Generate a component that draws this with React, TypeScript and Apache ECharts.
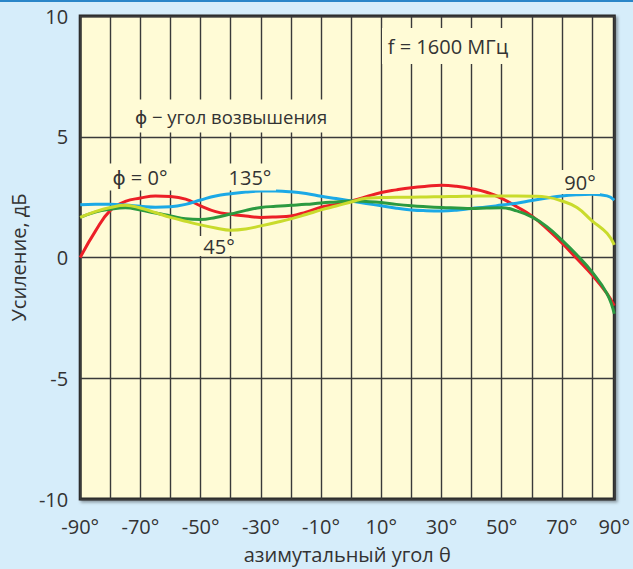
import React, { useEffect, useRef } from "react";
import * as echarts from "echarts";

// Axis ranges (the last 10° interval of the original grid is drawn compressed;
// the right edge of the plot carries the "90°" label)
const X_MIN = -90;
const X_END = 87.4;
const Y_MIN = -10;
const Y_MAX = 10;

const thetas = [
  -90, -85, -80, -75, -70, -65, -60, -55, -50, -45, -40, -35, -30, -25, -20, -15, -10, -5,
  0, 5, 10, 15, 20, 25, 30, 35, 40, 45, 50, 55, 60, 65, 70, 75, 80, 85, X_END,
];

// φ = 0° (red)
const gainRed = [
  0, 1.08, 1.95, 2.32, 2.46, 2.55, 2.53, 2.42, 2.14, 1.9, 1.79, 1.72, 1.66, 1.68, 1.72, 1.88, 2.08, 2.2,
  2.34, 2.52, 2.69, 2.8, 2.89, 2.95, 2.99, 2.95, 2.85, 2.7, 2.45, 2.1, 1.72, 1.2, 0.6, -0.05, -0.72, -1.5, -2.0,
];
// 135° (blue)
const gainBlue = [
  2.18, 2.2, 2.2, 2.17, 2.12, 2.08, 2.1, 2.2, 2.38, 2.55, 2.64, 2.71, 2.75, 2.75, 2.72, 2.65, 2.54, 2.44,
  2.34, 2.24, 2.14, 2.04, 1.97, 1.94, 1.93, 1.96, 2.03, 2.09, 2.17, 2.25, 2.36, 2.46, 2.55, 2.6, 2.62, 2.55, 2.38,
];
// green
const gainGreen = [
  1.66, 1.88, 2.0, 2.06, 1.97, 1.84, 1.72, 1.6, 1.57, 1.66, 1.8, 1.95, 2.07, 2.12, 2.16, 2.2, 2.26, 2.3,
  2.34, 2.32, 2.28, 2.2, 2.14, 2.1, 2.07, 2.05, 2.03, 2.05, 2.06, 1.93, 1.68, 1.28, 0.72, 0.1, -0.6, -1.5, -2.33,
];
// yellow
const gainYellow = [
  1.66, 1.9, 2.07, 2.16, 2.05, 1.86, 1.66, 1.5, 1.35, 1.22, 1.13, 1.18, 1.31, 1.45, 1.6, 1.78, 1.97, 2.13,
  2.3, 2.45, 2.48, 2.5, 2.5, 2.51, 2.52, 2.53, 2.54, 2.55, 2.55, 2.55, 2.54, 2.5, 2.34, 2.07, 1.52, 1.0, 0.52,
];

const seriesDefs = [
  { name: "ϕ = 0°", color: "#ec1f27", data: gainRed },
  { name: "135°", color: "#1ba9e6", data: gainBlue },
  { name: "90°", color: "#2c9a40", data: gainGreen },
  { name: "45°", color: "#c9db2c", data: gainYellow },
];

const FONT = '"Open Sans", "DejaVu Sans", sans-serif';
const TEXT_COLOR = "#333333";
const PLOT_BG = "#fffbd6";
const PAGE_BG = "#d6edfa";

function label(text: string, cx: number, cy: number, w: number, h: number, size = 20) {
  return {
    type: "group",
    z: 100,
    children: [
      {
        type: "rect",
        z: 100,
        shape: { x: cx - w / 2, y: cy - h / 2, width: w, height: h },
        style: { fill: PLOT_BG },
      },
      {
        type: "text",
        z: 101,
        x: cx,
        y: cy,
        style: {
          text,
          fill: TEXT_COLOR,
          fontSize: size,
          fontFamily: FONT,
          align: "center",
          verticalAlign: "middle",
        },
      },
    ],
  };
}

export default function App() {
  const ref = useRef<HTMLDivElement>(null);

  useEffect(() => {
    if (!ref.current) return;
    const chart = echarts.init(ref.current, undefined, { renderer: "svg" });
    chart.setOption({
      animation: false,
      backgroundColor: PAGE_BG,
      grid: {
        left: 63,
        top: 16,
        width: 556,
        height: 485,
        show: true,
        backgroundColor: PLOT_BG,
        borderColor: "#2a2a2a",
        borderWidth: 3,
        shadowColor: "rgba(0,0,0,0.35)",
        shadowBlur: 3,
        shadowOffsetX: 2,
        shadowOffsetY: 2,
        z: 0,
      },
      xAxis: {
        type: "value",
        min: X_MIN,
        max: X_END,
        interval: 10,
        name: "азимутальный угол θ",
        nameLocation: "middle",
        nameGap: 45,
        nameTextStyle: { fontSize: 20, color: TEXT_COLOR, fontFamily: FONT },
        axisLine: { show: false },
        axisTick: { show: false },
        axisLabel: {
          show: true,
          showMaxLabel: true,
          showMinLabel: true,
          margin: 17,
          fontSize: 20,
          color: TEXT_COLOR,
          fontFamily: FONT,
          formatter: (v: number) => {
            if (Math.abs(v - X_END) < 0.01) return "90°";
            if ((Math.round(v) + 90) % 20 === 0) return `${Math.round(v)}°`;
            return "";
          },
        },
        splitLine: { show: true, lineStyle: { color: "#3a3a3a", width: 1.4 } },
      },
      yAxis: {
        type: "value",
        min: Y_MIN,
        max: Y_MAX,
        interval: 5,
        name: "Усиление, дБ",
        nameLocation: "middle",
        nameGap: 29,
        nameRotate: 90,
        nameTextStyle: { fontSize: 20, color: TEXT_COLOR, fontFamily: FONT },
        axisLine: { show: false },
        axisTick: { show: false },
        axisLabel: { margin: 12, fontSize: 20, color: TEXT_COLOR, fontFamily: FONT },
        splitLine: { show: true, lineStyle: { color: "#3a3a3a", width: 1.4 } },
      },
      series: seriesDefs.map((s) => ({
        type: "line",
        name: s.name,
        data: thetas.map((t, i) => [t, s.data[i]]),
        smooth: 0.45,
        showSymbol: false,
        symbol: "none",
        lineStyle: { color: s.color, width: 3 },
        itemStyle: { color: s.color },
        z: 5,
      })),
      graphic: [
        {
          type: "rect",
          z: 100,
          shape: { x: 0, y: 0, width: 633, height: 2 },
          style: { fill: "#2a86c8" },
        },
        label("f = 1600 МГц", 448, 46, 132, 36),
        label("ϕ − угол возвышения", 231, 116, 212, 33, 18.5),
        label("ϕ = 0°", 140, 177, 64, 27),
        label("135°", 250, 177, 52, 27),
        label("45°", 219, 246, 40, 20),
        label("90°", 580, 182, 40, 24),
      ],
    });
    return () => chart.dispose();
  }, []);

  return (
    <div
      ref={ref}
      style={{ position: "absolute", left: 0, top: 0, width: 633, height: 569 }}
    />
  );
}
